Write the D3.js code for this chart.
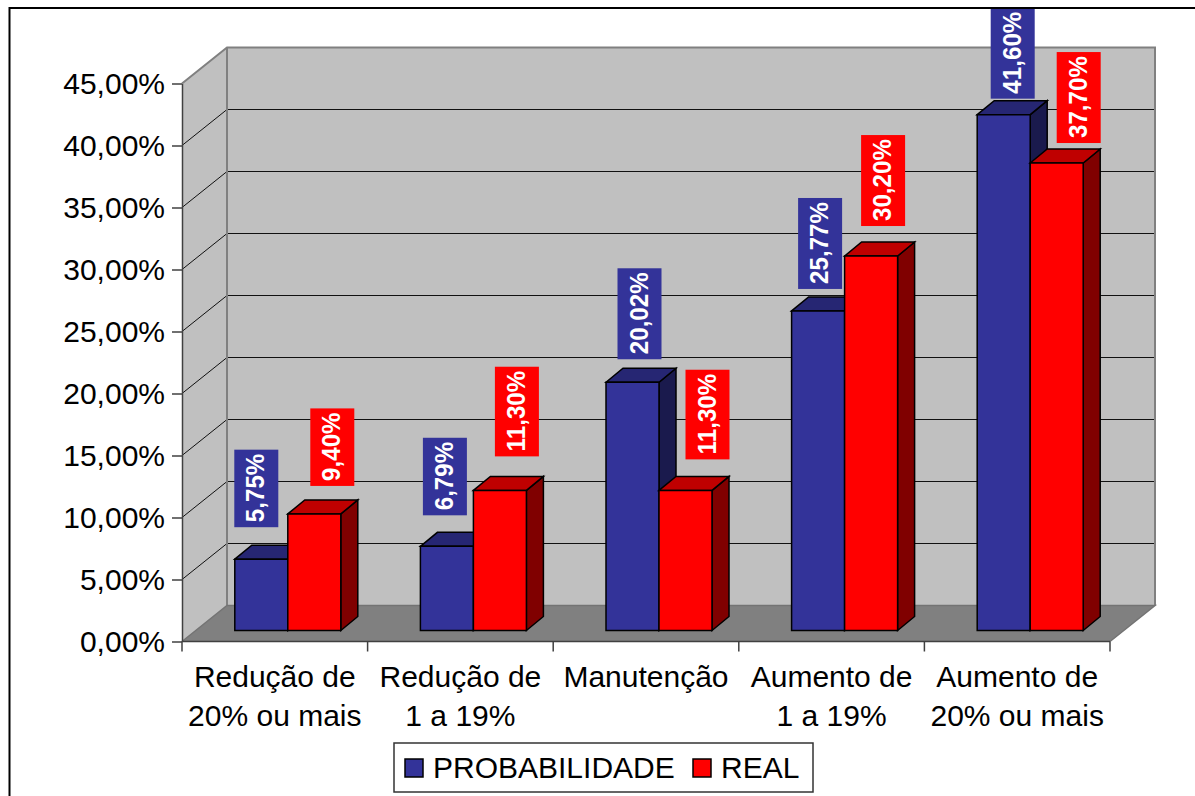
<!DOCTYPE html>
<html>
<head>
<meta charset="utf-8">
<script src="https://cdn.jsdelivr.net/npm/d3@7/dist/d3.min.js"></script>
<style>
  html, body { margin: 0; padding: 0; background: #fff; }
  svg { display: block; }
  text { font-family: "Liberation Sans", Arial, sans-serif; }
</style>
</head>
<body>
<svg id="chart" width="1195" height="796"></svg>
<script>
// Chart data
const categories = [
  ["Redução de", "20% ou mais"],
  ["Redução de", "1 a 19%"],
  ["Manutenção"],
  ["Aumento de", "1 a 19%"],
  ["Aumento de", "20% ou mais"]
];
const seriesNames = ["PROBABILIDADE", "REAL"];
const probabilidade = [5.75, 6.79, 20.02, 25.77, 41.60];
const real = [9.40, 11.30, 11.30, 30.20, 37.70];
const tickValues = [0, 5, 10, 15, 20, 25, 30, 35, 40, 45];

// Hand placement of the value labels relative to the top of each bar: [dx, gap]
const labelNudgeProb = [[-5, 32], [-2, 31], [7, 23], [2, 22], [9, 16]];
const labelNudgeReal = [[18, 28], [17, 34], [22, 31], [12, 30], [22, 20]];

// Layout of the pseudo-3D box
const plot = { left: 182, right: 1110, top: 83.5, bottom: 641.5 };
const wall = { dx: 45, dy: -36 };      // offset of the back wall from the front plane
const barFront = { dx: 13, dy: -11 };  // front face of the bars inside the box
const barDepth = { dx: 17, dy: -14 };  // depth of each bar
const barWidth = 53;
const labelCondense = 0.93;            // value labels are slightly narrowed along the baseline

const colors = [
  { front: "#333399", top: "#262673", side: "#1a1a4d" },
  { front: "#ff0000", top: "#bf0000", side: "#800000" }
];

const svg = d3.select("#chart");
const pct = d3.formatLocale({ decimal: ",", thousands: ".", grouping: [3], currency: ["", ""] }).format(".2f");
const fmt = v => pct(v) + "%";

const y = d3.scaleLinear().domain([0, 45]).range([plot.bottom, plot.top]);
const x = d3.scaleBand().domain(d3.range(categories.length)).range([plot.left, plot.right]);

const poly = (g, pts, fill, stroke, sw) => g.append("polygon")
  .attr("points", pts.map(p => p.join(",")).join(" "))
  .attr("fill", fill)
  .attr("stroke", stroke)
  .attr("stroke-width", sw)
  .attr("stroke-linejoin", "miter");

// Walls and floor
const box = svg.append("g");
const L = plot.left, R = plot.right, T = plot.top, B = plot.bottom;
poly(box, [[L, T], [L + wall.dx, T + wall.dy], [L + wall.dx, B + wall.dy], [L, B]], "#c0c0c0", "none", 0);
poly(box, [[L + wall.dx, T + wall.dy], [R + wall.dx, T + wall.dy], [R + wall.dx, B + wall.dy], [L + wall.dx, B + wall.dy]], "#c0c0c0", "none", 0);
poly(box, [[L, B], [L + wall.dx, B + wall.dy], [R + wall.dx, B + wall.dy], [R, B]], "#808080", "none", 0);

// Gridlines run along the side wall and across the back wall
tickValues.filter(v => v > 0 && v < 45).forEach(v => {
  const yy = y(v);
  box.append("line")
    .attr("x1", L).attr("y1", yy).attr("x2", L + wall.dx).attr("y2", yy + wall.dy)
    .attr("stroke", "#111").attr("stroke-width", 1);
  box.append("line")
    .attr("x1", L + wall.dx).attr("y1", yy + wall.dy).attr("x2", R + wall.dx).attr("y2", yy + wall.dy)
    .attr("stroke", "#111").attr("stroke-width", 1).attr("shape-rendering", "crispEdges");
});

// Box edges
box.append("polyline")
  .attr("points", [[L, T], [L + wall.dx, T + wall.dy], [R + wall.dx, T + wall.dy], [R + wall.dx, B + wall.dy]].map(p => p.join(",")).join(" "))
  .attr("fill", "none").attr("stroke", "#808080").attr("stroke-width", 2);
box.append("line")
  .attr("x1", L + wall.dx).attr("x2", L + wall.dx).attr("y1", T + wall.dy).attr("y2", B + wall.dy)
  .attr("stroke", "#808080").attr("stroke-width", 2);
box.append("polyline")
  .attr("points", [[L, B], [L + wall.dx, B + wall.dy], [R + wall.dx, B + wall.dy], [R, B]].map(p => p.join(",")).join(" "))
  .attr("fill", "none").attr("stroke", "#737373").attr("stroke-width", 1.5);

// Value axis
const yAxis = svg.append("g")
  .attr("transform", `translate(${L},0)`)
  .call(d3.axisLeft(y).tickValues(tickValues).tickFormat(fmt).tickSize(10).tickSizeOuter(0).tickPadding(7));
yAxis.select(".domain").attr("stroke", "#404040").attr("stroke-width", 1.5);
yAxis.selectAll("line").attr("stroke", "#404040").attr("stroke-width", 1.5);
yAxis.selectAll("text").attr("font-size", 30).attr("fill", "#000")
  .attr("font-family", '"Liberation Sans", Arial, sans-serif');

// Category axis
const xAxis = svg.append("g").attr("transform", `translate(0,${B})`);
xAxis.append("line").attr("x1", L).attr("x2", R).attr("stroke", "#404040").attr("stroke-width", 1.5);
d3.range(categories.length + 1).forEach(i => {
  const px = i < categories.length ? x(i) : R;
  xAxis.append("line").attr("x1", px).attr("x2", px).attr("y1", 0).attr("y2", 10)
    .attr("stroke", "#404040").attr("stroke-width", 1.5);
});
categories.forEach((lines, i) => {
  const t = xAxis.append("text").attr("text-anchor", "middle").attr("font-size", 30).attr("fill", "#000");
  lines.forEach((s, k) => t.append("tspan")
    .attr("x", x(i) + x.bandwidth() / 2)
    .attr("y", 45 + k * 39)
    .text(s));
});

// Bars: each one has a side, a top and a front face
const barLayer = svg.append("g");
const labelLayer = svg.append("g");
const baseY = B + barFront.dy;
const valueY = v => y(v) + barFront.dy;
const barLeft = (i, s) => x(i) + barFront.dx + x.bandwidth() / 2 - barWidth + s * barWidth;

[probabilidade, real].forEach((values, s) => {
  values.forEach((v, i) => {
    const g = barLayer.append("g");
    const x0 = barLeft(i, s), x1 = x0 + barWidth, yt = valueY(v);
    const c = colors[s];
    poly(g, [[x1, yt], [x1 + barDepth.dx, yt + barDepth.dy], [x1 + barDepth.dx, baseY + barDepth.dy], [x1, baseY]], c.side, "#000", 1.5);
    poly(g, [[x0, yt], [x0 + barDepth.dx, yt + barDepth.dy], [x1 + barDepth.dx, yt + barDepth.dy], [x1, yt]], c.top, "#000", 1.5);
    poly(g, [[x0, yt], [x1, yt], [x1, baseY], [x0, baseY]], c.front, "#000", 1.5);
  });
});

// Rotated value labels on coloured plates
[[probabilidade, labelNudgeProb], [real, labelNudgeReal]].forEach(([values, nudge], s) => {
  values.forEach((v, i) => {
    const cx = barLeft(i, s) + barWidth / 2 + nudge[i][0];
    const bottom = valueY(v) - nudge[i][1];
    const g = labelLayer.append("g");
    const plate = g.append("rect").attr("fill", colors[s].front);
    const label = g.append("text")
      .attr("transform", `translate(${cx + 8},${bottom - 5}) rotate(-90) scale(${labelCondense},1)`)
      .attr("font-size", 26).attr("font-weight", "bold").attr("fill", "#fff")
      .text(fmt(v));
    const len = label.node().getComputedTextLength() * labelCondense;
    plate.attr("x", cx - 22).attr("width", 44)
      .attr("y", bottom - len - 9).attr("height", len + 9);
  });
});

// Legend
const legend = svg.append("g");
legend.append("rect").attr("x", 394).attr("y", 743).attr("width", 419).attr("height", 49)
  .attr("fill", "#fff").attr("stroke", "#333").attr("stroke-width", 1.5);
const legendAt = [[405, 433], [693, 721]];
seriesNames.forEach((name, s) => {
  legend.append("rect").attr("x", legendAt[s][0]).attr("y", 759).attr("width", 18).attr("height", 18)
    .attr("fill", colors[s].front).attr("stroke", "#000").attr("stroke-width", 1.5);
  legend.append("text").attr("x", legendAt[s][1]).attr("y", 778)
    .attr("font-size", 30).attr("fill", "#000").text(name);
});

// Outer frame, open on the right and bottom
svg.append("polyline")
  .attr("points", "9.5,796 9.5,8 1195,8")
  .attr("fill", "none").attr("stroke", "#000").attr("stroke-width", 2);
</script>
</body>
</html>
